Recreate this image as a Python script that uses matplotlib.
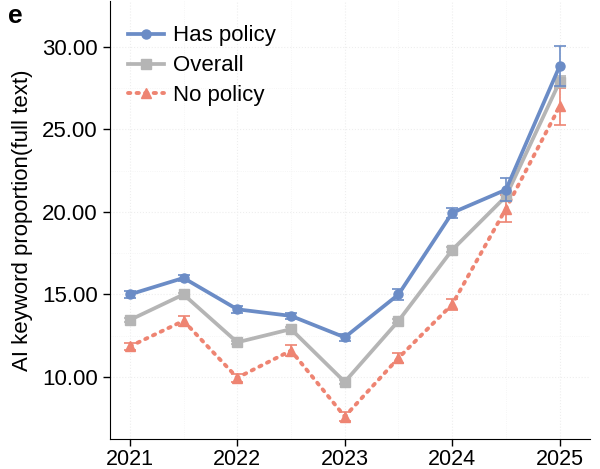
import matplotlib
matplotlib.use("Agg")
import matplotlib.pyplot as plt
from matplotlib.lines import Line2D

plt.rcParams['font.family'] = ['Liberation Sans', 'DejaVu Sans']

periods = [2021, 2021.5, 2022, 2022.5, 2023, 2023.5, 2024, 2024.5, 2025]
has_policy = [15.0, 16.0, 14.1, 13.7, 12.4, 15.0, 19.95, 21.35, 28.85]
has_policy_err = [0.2, 0.2, 0.2, 0.2, 0.2, 0.35, 0.3, 0.7, 1.2]
overall = [13.45, 15.0, 12.1, 12.9, 9.7, 13.4, 17.7, 20.95, 27.9]
overall_err = [0.1, 0.1, 0.1, 0.1, 0.1, 0.1, 0.15, 0.3, 0.35]
no_policy = [11.85, 13.4, 9.95, 11.6, 7.6, 11.15, 14.4, 20.2, 26.4]
no_policy_err = [0.2, 0.3, 0.25, 0.35, 0.25, 0.3, 0.35, 0.8, 1.1]
year_ticks = [2021, 2022, 2023, 2024, 2025]
y_ticks = [10, 15, 20, 25, 30]

blue = "#6b8cc6"
grey = "#b5b5b5"
red = "#ee8472"
red_ls = (0, (0.6, 1.6))

fig = plt.figure(figsize=(6, 4.69), dpi=100)
ax = fig.add_axes([0.183, 0.064, 0.8, 0.934])

ax.errorbar(periods, has_policy, yerr=has_policy_err, color=blue, lw=2.7,
            marker="o", ms=6.5, capsize=4, elinewidth=1.2, capthick=1.2,
            zorder=4)
ax.errorbar(periods, overall, yerr=overall_err, color=grey, lw=2.7,
            marker="s", ms=6.5, capsize=4, elinewidth=1.2, capthick=1.2,
            zorder=3)
ax.errorbar(periods, no_policy, yerr=no_policy_err, color=red, lw=2.8,
            ls=red_ls, dash_capstyle="round", marker="^", ms=7,
            capsize=4, elinewidth=1.2, capthick=1.2, zorder=2)

ax.set_xlim(2020.814, 2025.28)
ax.set_ylim(6.24, 32.79)
ax.set_xticks(year_ticks)
ax.set_yticks(y_ticks)
ax.set_yticklabels([f"{v:.2f}" for v in y_ticks])
ax.tick_params(labelsize=16, length=5, width=1, direction="out")
ax.tick_params(axis="x", labelsize=15.5, pad=2.5)
ax.set_ylabel("AI keyword proportion(full text)", fontsize=16, labelpad=7)

ax.grid(True, color="#eeeeee", lw=0.8, ls=":")
ax.set_xticks([2021.5, 2022.5, 2023.5, 2024.5], minor=True)
ax.set_yticks([12.5, 17.5, 22.5, 27.5], minor=True)
ax.tick_params(which="minor", length=0)
ax.grid(True, which="minor", color="#f3f3f3", lw=0.6, ls=":")
ax.set_axisbelow(True)

for side in ["top", "right"]:
    ax.spines[side].set_visible(False)

handles = [
    Line2D([], [], color=blue, lw=2.7, marker="o", ms=6.5),
    Line2D([], [], color=grey, lw=2.7, marker="s", ms=6.5),
    Line2D([], [], color=red, lw=2.8, ls=red_ls, dash_capstyle="round",
           marker="^", ms=7),
]
labels = ["Has policy", "Overall", "No policy"]
ax.legend(handles, labels, loc="upper left", bbox_to_anchor=(0.0375, 0.944),
          frameon=False, fontsize=16, handlelength=1.65, handletextpad=0.4,
          labelspacing=0.4, borderpad=0, borderaxespad=0)

fig.text(0.013, 0.965, "e", fontsize=19, fontweight="bold", va="center")

fig.savefig("out.png", dpi=100)
